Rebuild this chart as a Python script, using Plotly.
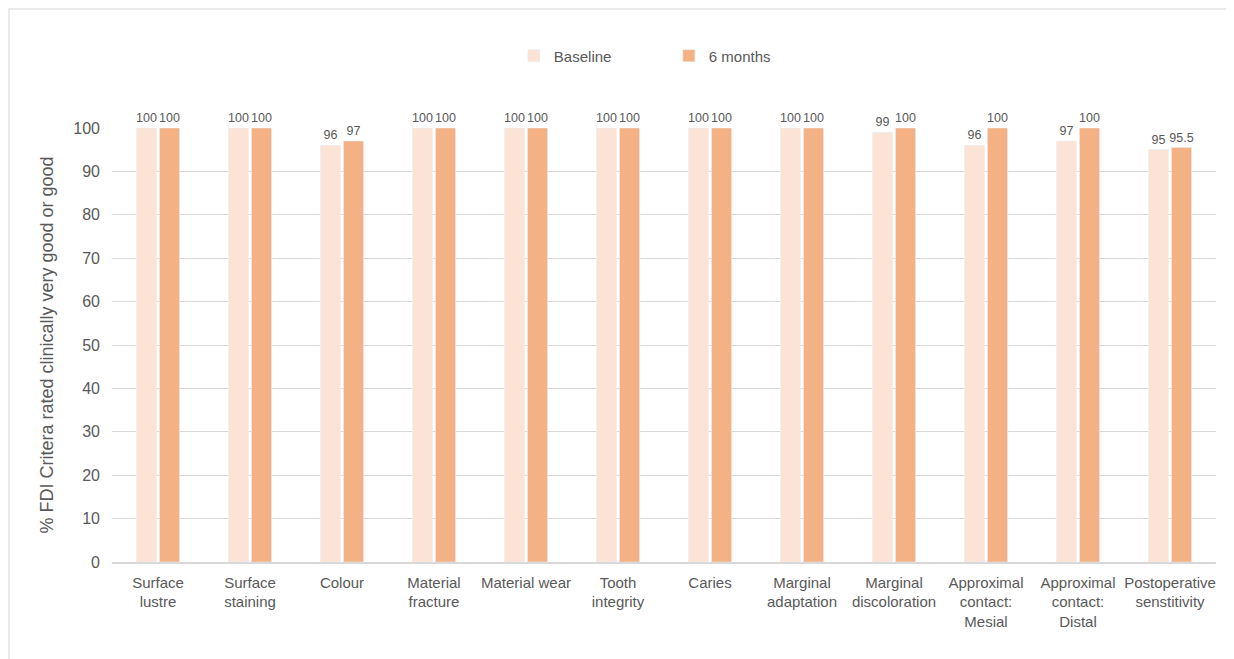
import plotly.graph_objects as go

categories = [
    "Surface<br>lustre", "Surface<br>staining", "Colour", "Material<br>fracture",
    "Material wear", "Tooth<br>integrity", "Caries", "Marginal<br>adaptation",
    "Marginal<br>discoloration", "Approximal<br>contact:<br>Mesial",
    "Approximal<br>contact:<br>Distal", "Postoperative<br>senstitivity",
]
baseline = [100, 100, 96, 100, 100, 100, 100, 100, 99, 96, 97, 95]
six_months = [100, 100, 97, 100, 100, 100, 100, 100, 100, 100, 100, 95.5]
baseline_labels = ["100", "100", "96", "100", "100", "100", "100", "100", "99", "96", "97", "95"]
six_labels = ["100", "100", "97", "100", "100", "100", "100", "100", "100", "100", "100", "95.5"]

FONT = "Liberation Sans, Arial, sans-serif"
TXT = "#595959"

W, H = 1226, 651
L, R, T, B = 104, 18, 120, 97
PW = W - L - R
PH = H - T - B

fig = go.Figure()
fig.add_trace(go.Bar(
    name="Baseline", x=categories, y=baseline, marker_color="#FBE3D6",
    text=baseline_labels, textposition="outside", cliponaxis=False,
    constraintext="none",
    textfont=dict(size=12.5, color=TXT, family=FONT),
))
fig.add_trace(go.Bar(
    name="6 months", x=categories, y=six_months, marker_color="#F4B183",
    text=six_labels, textposition="outside", cliponaxis=False,
    constraintext="none",
    textfont=dict(size=12.5, color=TXT, family=FONT),
))

fig.update_layout(
    width=W, height=H,
    margin=dict(l=L, r=R, t=T, b=B),
    paper_bgcolor="white", plot_bgcolor="white",
    barmode="group", bargap=0.5, bargroupgap=0.13,
    font=dict(family=FONT, color=TXT, size=14),
    legend=dict(
        orientation="h", x=0.364, xanchor="left", y=1.166, yanchor="middle",
        font=dict(size=15, color=TXT, family=FONT),
        entrywidth=110, entrywidthmode="pixels",
    ),
    shapes=[dict(
        type="rect", xref="paper", yref="paper",
        x0=(1 - L) / PW, x1=(1222 - L) / PW, y0=-0.3, y1=(PH + T - 1) / PH,
        line=dict(color="#E3E3E3", width=1.5), layer="below",
    )],
)
fig.update_yaxes(
    range=[0, 100], dtick=10, showgrid=True, gridcolor="#D9D9D9", gridwidth=1,
    zeroline=False, showline=False, ticks="", ticklabelstandoff=11,
    tickfont=dict(size=16, color=TXT, family=FONT),
    title=dict(text="% FDI Critera rated clinically very good or good",
               font=dict(size=18, color=TXT, family=FONT), standoff=14),
)
fig.update_xaxes(
    showline=True, linecolor="#D9D9D9", linewidth=1.5, ticks="",
    ticklabelstandoff=6,
    tickangle=0, tickfont=dict(size=15, color=TXT, family=FONT),
)

fig.write_html("out.html")
